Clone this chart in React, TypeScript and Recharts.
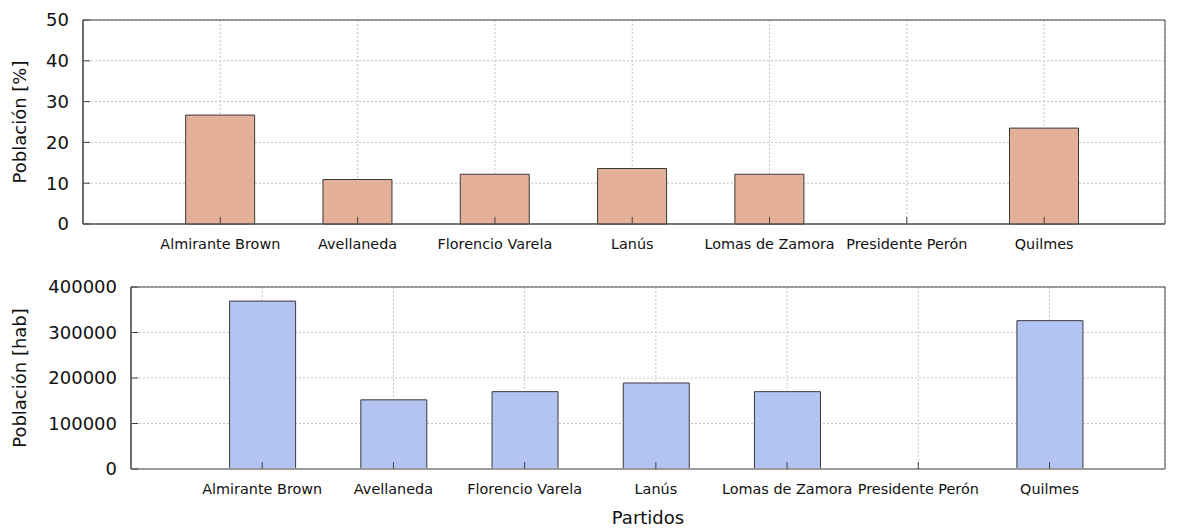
import React from "react";
import { BarChart, Bar, XAxis, YAxis, CartesianGrid, ReferenceArea } from "recharts";

const categories = [
  "Almirante Brown",
  "Avellaneda",
  "Florencio Varela",
  "Lanús",
  "Lomas de Zamora",
  "Presidente Perón",
  "Quilmes",
];
const populationPct = [26.7, 10.9, 12.2, 13.6, 12.2, 0, 23.5];
const populationHab = [369000, 152000, 170000, 189000, 170000, 0, 326000];
const pctTicks = [0, 10, 20, 30, 40, 50];
const habTicks = [0, 100000, 200000, 300000, 400000];
const catTicks = [0, 1, 2, 3, 4, 5, 6];

const data = categories.map((c, i) => ({ x: i, name: c, pct: populationPct[i], hab: populationHab[i] }));

const FONT = "DejaVu Sans, sans-serif";
const X_DOMAIN: [number, number] = [-1, 6.88];
const gridStroke = "#c4c4c4";
const tickStroke = "#444";
const TS = -7;

const empty = () => "";

export default function App() {
  return (
    <div style={{ position: "absolute", left: 0, top: 0, width: 1180, height: 530, background: "#fff", fontFamily: FONT }}>
      <div style={{ position: "absolute", left: 0, top: 0 }}>
        <BarChart width={1180} height={260} data={data} margin={{ top: 20, right: 15, left: 0, bottom: 6 }}>
          <CartesianGrid stroke={gridStroke} strokeDasharray="2 2" />
          <XAxis
            dataKey="x"
            type="number"
            domain={X_DOMAIN}
            ticks={catTicks}
            tickFormatter={(v: number) => categories[v]}
            height={30}
            tickSize={TS}
            tickLine={{ stroke: tickStroke }}
            axisLine={{ stroke: "#555" }}
            tickMargin={22}
            tick={{ fontSize: 14.4, fill: "#111", fontFamily: FONT }}
            interval={0}
            allowDataOverflow
          />
          <XAxis
            xAxisId="top"
            orientation="top"
            dataKey="x"
            type="number"
            domain={X_DOMAIN}
            ticks={catTicks}
            tickFormatter={empty}
            height={0}
            tickSize={TS}
            tickLine={{ stroke: tickStroke }}
            axisLine={false}
            interval={0}
            allowDataOverflow
          />
          <YAxis
            type="number"
            domain={[0, 50]}
            ticks={pctTicks}
            width={83}
            tickSize={TS}
            tickLine={{ stroke: tickStroke }}
            axisLine={{ stroke: "#444" }}
            tickMargin={21}
            tick={{ fontSize: 18, fill: "#111", fontFamily: FONT }}
            label={{ value: "Población [%]", angle: -90, position: "insideLeft", offset: 20, style: { textAnchor: "middle", fontSize: 18, fill: "#111", fontFamily: FONT } }}
          />
          <YAxis
            yAxisId="right"
            orientation="right"
            type="number"
            domain={[0, 50]}
            ticks={pctTicks}
            width={0}
            tickSize={TS}
            tickLine={{ stroke: tickStroke }}
            axisLine={false}
            tickFormatter={empty}
          />
          <ReferenceArea x1={X_DOMAIN[0]} x2={X_DOMAIN[1]} y1={0} y2={50} fill="none" stroke="#444" strokeWidth={1} />
          <Bar dataKey="pct" fill="#e4b198" stroke="#3a3a3a" strokeWidth={1} barSize={69} isAnimationActive={false} />
        </BarChart>
      </div>
      <div style={{ position: "absolute", left: 0, top: 260 }}>
        <BarChart width={1180} height={270} data={data} margin={{ top: 27, right: 15, left: 0, bottom: 0 }}>
          <CartesianGrid stroke={gridStroke} strokeDasharray="2 2" />
          <XAxis
            dataKey="x"
            type="number"
            domain={X_DOMAIN}
            ticks={catTicks}
            tickFormatter={(v: number) => categories[v]}
            height={61}
            tickSize={TS}
            tickLine={{ stroke: tickStroke }}
            axisLine={{ stroke: "#999", strokeWidth: 2 }}
            tickMargin={22}
            tick={{ fontSize: 14.4, fill: "#111", fontFamily: FONT }}
            interval={0}
            allowDataOverflow
            label={{ value: "Partidos", position: "insideBottom", offset: 6, style: { fontSize: 18, fill: "#111", fontFamily: FONT } }}
          />
          <XAxis
            xAxisId="top"
            orientation="top"
            dataKey="x"
            type="number"
            domain={X_DOMAIN}
            ticks={catTicks}
            tickFormatter={empty}
            height={0}
            tickSize={TS}
            tickLine={{ stroke: tickStroke }}
            axisLine={false}
            interval={0}
            allowDataOverflow
          />
          <YAxis
            type="number"
            domain={[0, 400000]}
            ticks={habTicks}
            width={131}
            tickSize={TS}
            tickLine={{ stroke: tickStroke }}
            axisLine={{ stroke: "#444" }}
            tickMargin={21}
            tick={{ fontSize: 18, fill: "#111", fontFamily: FONT }}
            label={{ value: "Población [hab]", angle: -90, position: "insideLeft", offset: 20, style: { textAnchor: "middle", fontSize: 18, fill: "#111", fontFamily: FONT } }}
          />
          <YAxis
            yAxisId="right"
            orientation="right"
            type="number"
            domain={[0, 400000]}
            ticks={habTicks}
            width={0}
            tickSize={TS}
            tickLine={{ stroke: tickStroke }}
            axisLine={false}
            tickFormatter={empty}
          />
          <ReferenceArea x1={X_DOMAIN[0]} x2={X_DOMAIN[1]} y1={0} y2={400000} fill="none" stroke="#444" strokeWidth={1} />
          <Bar dataKey="hab" fill="#b3c4f2" stroke="#3a3a3a" strokeWidth={1} barSize={66} isAnimationActive={false} />
        </BarChart>
      </div>
    </div>
  );
}
